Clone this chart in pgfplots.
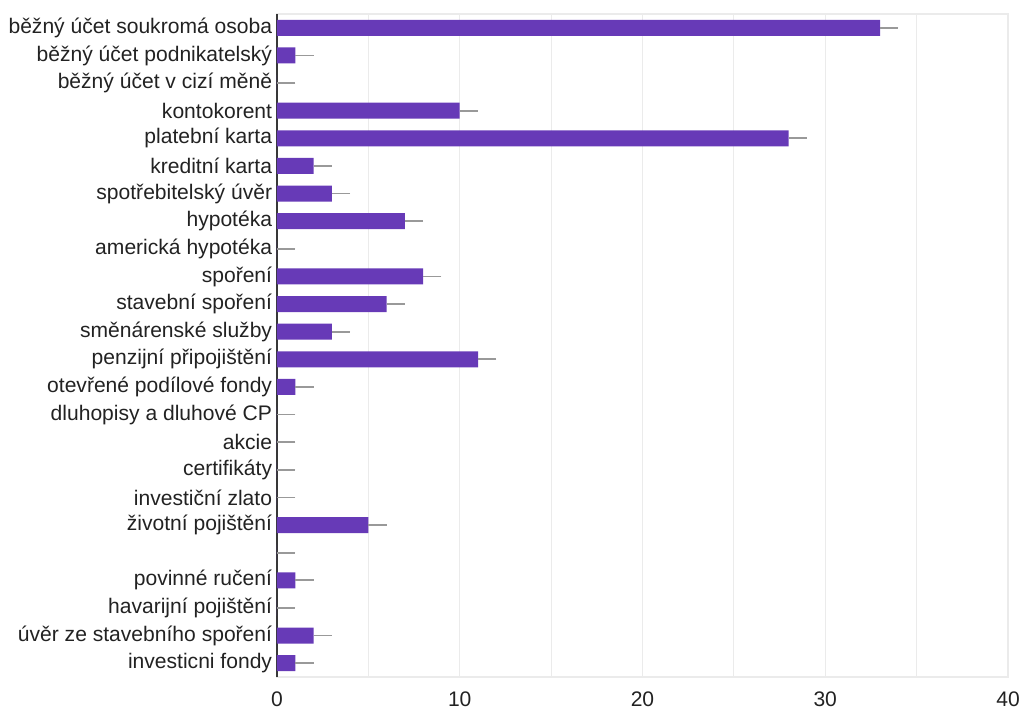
\documentclass[border=0pt]{standalone}
\usepackage{pgfplots}
\pgfplotsset{compat=1.18}
\usepackage{fontspec}
\setmainfont{Liberation Sans}
\definecolor{barc}{HTML}{673AB7}
\definecolor{txt}{HTML}{222222}
\definecolor{gridc}{HTML}{EBEBEB}
\definecolor{errc}{HTML}{999999}
\begin{document}
\begin{tikzpicture}
\useasboundingbox (-207.75pt,-25.5pt) rectangle (560.25pt,507.75pt);
\begin{axis}[
  at={(0,0)}, anchor=south west,
  scale only axis, width=548.25pt, height=497.25pt,
  xbar, bar width=12pt,
  xmin=0, xmax=40,
  ymin=-0.5, ymax=23.5, y dir=reverse,
  xtick={0,10,20,30,40},
  minor xtick={5,15,25,35},
  xmajorgrids, xminorgrids,
  grid style={gridc, line width=0.9pt},
  minor grid style={gridc, line width=0.9pt},
  major tick length=0pt, minor tick length=0pt,
  axis line style={gridc, line width=0.9pt},
  ytick={0,...,23},
  yticklabels={
    běžný účet soukromá osoba,
    běžný účet podnikatelský,
    běžný účet v cizí měně,
    kontokorent,
    platební karta,
    kreditní karta,
    spotřebitelský úvěr,
    hypotéka,
    americká hypotéka,
    spoření,
    stavební spoření,
    směnárenské služby,
    penzijní připojištění,
    otevřené podílové fondy,
    dluhopisy a dluhové CP,
    akcie,
    certifikáty,
    investiční zlato,
    životní pojištění,
    {},
    povinné ručení,
    havarijní pojištění,
    úvěr ze stavebního spoření,
    investicni fondy},
  y tick label style={font=\fontsize{15.8}{18}\selectfont, text=txt, inner xsep=3.5pt},
  x tick label style={font=\fontsize{15.8}{18}\selectfont, text=txt, inner sep=0pt, yshift=-11pt},
  /pgf/number format/assume math mode=true,
  extra x ticks={0},
  extra x tick labels={},
  extra x tick style={grid style={txt!90, line width=1.6pt}},
  clip=false,
]
\addplot[fill=barc, draw=none,
  error bars/.cd, x dir=plus, x explicit, error mark=none,
  error bar style={errc, line width=1.3pt}]
  table[x=v, y=i, x error=e] {
i v e
0 33 1
1 1 1
2 0 1
3 10 1
4 28 1
5 2 1
6 3 1
7 7 1
8 0 1
9 8 1
10 6 1
11 3 1
12 11 1
13 1 1
14 0 1
15 0 1
16 0 1
17 0 1
18 5 1
19 0 1
20 1 1
21 0 1
22 2 1
23 1 1
};
\end{axis}
\end{tikzpicture}
\end{document}
